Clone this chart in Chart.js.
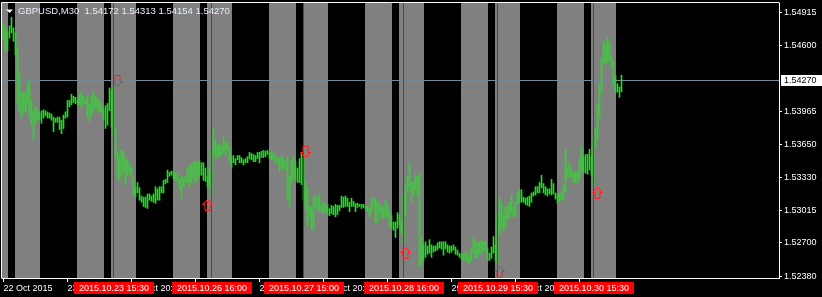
<!DOCTYPE html>
<html><head><meta charset="utf-8">
<script src="https://cdn.jsdelivr.net/npm/chart.js@4.4.1/dist/chart.umd.min.js"></script>
<style>html,body{margin:0;padding:0;background:#000;overflow:hidden}#wrap{width:822px;height:297px}</style>
</head><body><div id="wrap"><canvas id="c" width="822" height="297"></canvas></div>
<script>
const symbolTitle = 'GBPUSD,M30';
const lastBarOHLC = ['1.54172', '1.54313', '1.54154', '1.54270'];
const currentPrice = 1.5427;
const barHigh = [
1.5481,1.5477,1.5473,1.5479,1.5487,1.5477,1.5472,1.5457,1.5433,1.5414,
1.5415,1.5415,1.5423,1.5426,1.5407,1.5398,1.5401,1.5399,1.5395,1.5397,
1.5398,1.5397,1.5396,1.5395,1.5394,1.5391,1.5390,1.5391,1.5391,1.5388,
1.5393,1.5396,1.5407,1.5407,1.5413,1.5411,1.5410,1.5407,1.5413,1.5415,
1.5411,1.5407,1.5412,1.5404,1.5411,1.5416,1.5411,1.5409,1.5408,1.5404,
1.5399,1.5402,1.5404,1.5419,1.5417,1.5419,1.5379,1.5358,1.5353,1.5359,
1.5358,1.5352,1.5350,1.5346,1.5343,1.5333,1.5324,1.5328,1.5323,1.5315,
1.5314,1.5314,1.5317,1.5317,1.5315,1.5317,1.5324,1.5322,1.5324,1.5324,
1.5330,1.5331,1.5340,1.5338,1.5339,1.5339,1.5337,1.5336,1.5330,1.5334,
1.5332,1.5334,1.5342,1.5344,1.5346,1.5348,1.5348,1.5348,1.5349,1.5347,
1.5347,1.5342,1.5334,1.5341,1.5360,1.5380,1.5369,1.5364,1.5365,1.5363,
1.5372,1.5366,1.5367,1.5362,1.5353,1.5354,1.5351,1.5354,1.5354,1.5352,
1.5350,1.5351,1.5353,1.5357,1.5356,1.5355,1.5354,1.5357,1.5357,1.5358,
1.5359,1.5358,1.5359,1.5357,1.5357,1.5357,1.5354,1.5352,1.5352,1.5354,
1.5351,1.5348,1.5353,1.5334,1.5349,1.5353,1.5348,1.5342,1.5351,1.5357,
1.5352,1.5328,1.5322,1.5305,1.5304,1.5314,1.5316,1.5314,1.5316,1.5306,
1.5309,1.5307,1.5307,1.5303,1.5306,1.5305,1.5307,1.5306,1.5306,1.5315,
1.5314,1.5315,1.5313,1.5309,1.5313,1.5310,1.5308,1.5308,1.5307,1.5307,
1.5307,1.5305,1.5305,1.5303,1.5312,1.5314,1.5312,1.5309,1.5308,1.5305,
1.5305,1.5311,1.5308,1.5300,1.5296,1.5290,1.5290,1.5299,1.5297,1.5290,
1.5316,1.5326,1.5334,1.5347,1.5328,1.5329,1.5335,1.5334,1.5338,1.5275,
1.5268,1.5271,1.5267,1.5273,1.5268,1.5267,1.5267,1.5270,1.5271,1.5271,
1.5271,1.5271,1.5268,1.5267,1.5267,1.5268,1.5266,1.5263,1.5260,1.5259,
1.5259,1.5261,1.5260,1.5258,1.5265,1.5275,1.5271,1.5270,1.5271,1.5273,
1.5271,1.5271,1.5265,1.5260,1.5266,1.5276,1.5268,1.5297,1.5313,1.5309,
1.5297,1.5305,1.5305,1.5309,1.5316,1.5304,1.5309,1.5318,1.5321,1.5321,
1.5314,1.5313,1.5314,1.5315,1.5318,1.5319,1.5324,1.5324,1.5328,1.5335,
1.5327,1.5324,1.5322,1.5322,1.5331,1.5327,1.5318,1.5317,1.5317,1.5318,
1.5325,1.5360,1.5343,1.5347,1.5341,1.5338,1.5338,1.5338,1.5351,1.5363,
1.5353,1.5355,1.5355,1.5360,1.5353,1.5369,1.5380,1.5404,1.5423,1.5448,
1.5464,1.5462,1.5468,1.5463,1.5450,1.5445,1.5431,1.5423,1.5420,1.54313
];
const barLow = [
1.5465,1.5454,1.5455,1.5467,1.5472,1.5464,1.5451,1.5403,1.5396,1.5390,
1.5395,1.5396,1.5403,1.5390,1.5383,1.5369,1.5385,1.5388,1.5388,1.5385,
1.5390,1.5392,1.5390,1.5390,1.5388,1.5377,1.5386,1.5386,1.5379,1.5375,
1.5380,1.5390,1.5391,1.5401,1.5403,1.5405,1.5404,1.5403,1.5403,1.5400,
1.5404,1.5403,1.5391,1.5387,1.5393,1.5396,1.5401,1.5397,1.5396,1.5395,
1.5388,1.5380,1.5383,1.5397,1.5381,1.5374,1.5352,1.5332,1.5330,1.5335,
1.5338,1.5326,1.5335,1.5337,1.5333,1.5316,1.5314,1.5318,1.5311,1.5309,
1.5305,1.5304,1.5303,1.5311,1.5310,1.5309,1.5308,1.5311,1.5311,1.5318,
1.5318,1.5327,1.5328,1.5334,1.5335,1.5332,1.5330,1.5328,1.5322,1.5313,
1.5324,1.5328,1.5328,1.5324,1.5328,1.5333,1.5328,1.5330,1.5335,1.5335,
1.5330,1.5329,1.5324,1.5325,1.5316,1.5357,1.5352,1.5351,1.5353,1.5354,
1.5357,1.5354,1.5359,1.5348,1.5342,1.5347,1.5345,1.5350,1.5347,1.5347,
1.5345,1.5347,1.5347,1.5351,1.5350,1.5348,1.5348,1.5351,1.5347,1.5352,
1.5352,1.5353,1.5355,1.5351,1.5350,1.5350,1.5347,1.5346,1.5339,1.5341,
1.5342,1.5340,1.5311,1.5305,1.5328,1.5333,1.5330,1.5328,1.5328,1.5326,
1.5311,1.5302,1.5286,1.5294,1.5283,1.5282,1.5305,1.5302,1.5300,1.5300,
1.5298,1.5300,1.5297,1.5296,1.5298,1.5297,1.5295,1.5297,1.5301,1.5304,
1.5304,1.5305,1.5305,1.5300,1.5305,1.5305,1.5300,1.5304,1.5305,1.5303,
1.5304,1.5302,1.5300,1.5295,1.5299,1.5305,1.5289,1.5289,1.5298,1.5294,
1.5293,1.5295,1.5294,1.5285,1.5284,1.5282,1.5275,1.5284,1.5287,1.5279,
1.5269,1.5297,1.5319,1.5324,1.5309,1.5316,1.5321,1.5316,1.5247,1.5248,
1.5253,1.5256,1.5259,1.5260,1.5256,1.5261,1.5262,1.5263,1.5265,1.5264,
1.5258,1.5264,1.5261,1.5260,1.5261,1.5263,1.5259,1.5258,1.5256,1.5254,
1.5252,1.5253,1.5251,1.5250,1.5253,1.5260,1.5255,1.5256,1.5259,1.5260,
1.5263,1.5261,1.5253,1.5253,1.5255,1.5260,1.5253,1.5250,1.5279,1.5285,
1.5282,1.5285,1.5293,1.5294,1.5299,1.5295,1.5295,1.5307,1.5309,1.5309,
1.5309,1.5307,1.5306,1.5305,1.5309,1.5315,1.5316,1.5318,1.5318,1.5323,
1.5318,1.5316,1.5315,1.5317,1.5316,1.5317,1.5312,1.5308,1.5310,1.5311,
1.5311,1.5319,1.5333,1.5333,1.5333,1.5328,1.5328,1.5328,1.5331,1.5338,
1.5338,1.5337,1.5336,1.5340,1.5335,1.5326,1.5362,1.5369,1.5390,1.5414,
1.5443,1.5442,1.5443,1.5445,1.5439,1.5422,1.5414,1.5415,1.5410,1.54154
];
const xTickIndex = [0, 32, 64, 96, 128, 160, 192, 224, 256, 288];
const xTickLabels = ['22 Oct 2015', '23 Oct 04:00', '23 Oct 20:00', '26 Oct 12:00', '27 Oct 04:00',
  '27 Oct 20:00', '28 Oct 12:00', '29 Oct 04:00', '29 Oct 20:00', '30 Oct 12:00'];
const yTickValues = [1.54915, 1.54600, 1.53965, 1.53650, 1.53330, 1.53015, 1.52700, 1.52380];
const sessionStart = [-11, 6, 37, 54, 85, 102, 133, 150, 181, 198, 229, 246, 277, 294];
const sessionEnd   = [2, 18, 50, 66, 98, 114, 146, 162, 194, 210, 242, 258, 290, 306];
const eventIndex = [55, 104, 150, 200, 247, 295];
const eventLabels = ['2015.10.23 15:30', '2015.10.26 16:00', '2015.10.27 15:00',
  '2015.10.28 16:00', '2015.10.29 15:30', '2015.10.30 15:30'];
const arrowIndex = [57, 102, 151, 201, 248, 297];
const arrowPrice = [1.5421, 1.5312, 1.5353, 1.5266, 1.5248, 1.5324];
const arrowDir = ['down', 'up', 'down', 'up', 'up', 'up'];

const FONT = '"Liberation Sans", Arial, sans-serif';
const barData = barHigh.map((h, i) => ({ x: i, y: [barLow[i], h] }));

const mtPlugin = {
  id: 'mt',
  beforeDraw(chart) {
    const c = chart.ctx;
    c.save(); c.fillStyle = '#000'; c.fillRect(0, 0, chart.width, chart.height); c.restore();
  },
  beforeDatasetsDraw(chart) {
    const c = chart.ctx, a = chart.chartArea, xs = chart.scales.x, ys = chart.scales.y;
    c.save();
    c.beginPath(); c.rect(a.left, a.top, a.right - a.left, a.bottom - a.top); c.clip();
    c.fillStyle = '#808080';
    sessionStart.forEach((s, i) => {
      const x0 = Math.round(xs.getPixelForValue(s) - 0.5);
      const x1 = Math.round(xs.getPixelForValue(sessionEnd[i]) + 0.5);
      c.fillRect(x0, a.top, x1 - x0, a.bottom - a.top);
    });
    const py = Math.round(ys.getPixelForValue(currentPrice)) + 0.5;
    c.strokeStyle = '#778899'; c.lineWidth = 1;
    c.beginPath(); c.moveTo(a.left, py); c.lineTo(a.right, py); c.stroke();
    c.restore();
  },
  afterDatasetsDraw(chart) {
    const c = chart.ctx, a = chart.chartArea, xs = chart.scales.x, ys = chart.scales.y;
    c.save();
    c.strokeStyle = '#ff0000'; c.lineWidth = 1;
    eventIndex.forEach(idx => {
      const x = xs.getPixelForValue(idx);
      c.beginPath(); c.moveTo(x, a.top); c.lineTo(x, a.bottom); c.stroke();
    });
    c.strokeStyle = '#ff2020';
    arrowIndex.forEach((idx, i) => {
      const cx = xs.getPixelForValue(idx);
      const ty = Math.round(ys.getPixelForValue(arrowPrice[i])) + 0.5;
      const d = arrowDir[i] === 'up' ? 1 : -1;
      c.beginPath();
      c.moveTo(cx, ty);
      c.lineTo(cx + 5, ty + d * 5);
      c.lineTo(cx + 2.5, ty + d * 5);
      c.lineTo(cx + 2.5, ty + d * 11);
      c.lineTo(cx - 2.5, ty + d * 11);
      c.lineTo(cx - 2.5, ty + d * 5);
      c.lineTo(cx - 5, ty + d * 5);
      c.closePath();
      c.stroke();
    });
    c.restore();
  },
  afterDraw(chart) {
    const c = chart.ctx, a = chart.chartArea, xs = chart.scales.x, ys = chart.scales.y;
    c.save();
    c.strokeStyle = '#ffffff'; c.lineWidth = 1;
    c.beginPath(); c.moveTo(1.5, a.bottom + 0.5); c.lineTo(1.5, 2.5); c.lineTo(a.right + 0.5, 2.5); c.stroke();
    c.font = '9px ' + FONT; c.textAlign = 'center'; c.textBaseline = 'middle';
    eventIndex.forEach((idx, i) => {
      const x = Math.round(xs.getPixelForValue(idx));
      c.fillStyle = '#ff0000';
      c.fillRect(x - 40, 282, 80, 12);
      c.fillStyle = '#ffffff';
      c.fillText(eventLabels[i], x, 288.5);
    });
    const py = Math.round(ys.getPixelForValue(currentPrice));
    c.fillStyle = '#ffffff';
    c.fillRect(a.right + 2, py - 5, chart.width - a.right - 2, 11);
    c.fillStyle = '#000000'; c.textAlign = 'left';
    c.fillText(currentPrice.toFixed(5), a.right + 5, py + 0.5);
    c.fillStyle = '#ffffff';
    c.beginPath(); c.moveTo(6, 9.5); c.lineTo(13, 9.5); c.lineTo(9.5, 13); c.closePath(); c.fill();
    c.font = '9.5px ' + FONT; c.textBaseline = 'alphabetic';
    c.fillStyle = '#e6eef8';
    c.fillText(symbolTitle + '  ' + lastBarOHLC.join(' '), 18, 14);
    c.restore();
  }
};

new Chart(document.getElementById('c'), {
  type: 'bar',
  data: { datasets: [{ data: barData, backgroundColor: '#22dd22', borderWidth: 0, barThickness: 1, grouped: false }] },
  options: {
    responsive: false, animation: false, devicePixelRatio: 1,
    layout: { padding: { top: 3, left: 2, right: 0, bottom: 0 } },
    plugins: { legend: { display: false }, tooltip: { enabled: false } },
    scales: {
      x: {
        type: 'linear', min: -0.75, max: 387.75, offset: false,
        afterBuildTicks: s => { s.ticks = xTickIndex.map(v => ({ value: v })); },
        afterFit: s => { s.height = 19; s.paddingLeft = 0; s.paddingRight = 0; s.paddingTop = 0; s.paddingBottom = 0; },
        grid: { drawOnChartArea: false, drawTicks: true, tickLength: 4, color: '#ffffff', offset: false },
        border: { display: true, color: '#ffffff' },
        ticks: { autoSkip: false, maxRotation: 0, minRotation: 0, align: 'start', padding: 1,
          color: '#ffffff', font: { family: FONT, size: 9 },
          callback: (v, i) => xTickLabels[i] }
      },
      y: {
        type: 'linear', position: 'right', min: 1.52361, max: 1.55008,
        afterBuildTicks: s => { s.ticks = yTickValues.map(v => ({ value: v })); },
        afterFit: s => { s.width = 43; s.paddingLeft = 0; s.paddingRight = 0; s.paddingTop = 0; s.paddingBottom = 0; },
        grid: { drawOnChartArea: false, drawTicks: true, tickLength: 3, color: '#ffffff' },
        border: { display: true, color: '#ffffff' },
        ticks: { padding: 2, color: '#ffffff', font: { family: FONT, size: 9 },
          callback: v => Number(v).toFixed(5) }
      }
    }
  },
  plugins: [mtPlugin]
});
</script></body></html>
